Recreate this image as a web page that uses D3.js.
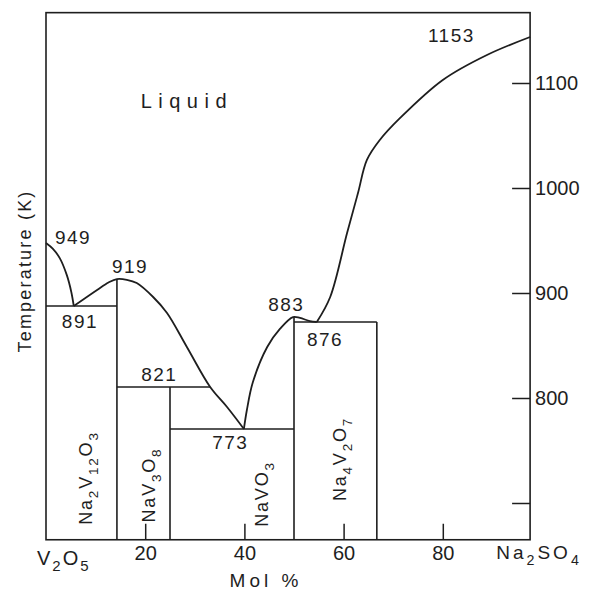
<!DOCTYPE html>
<html>
<head>
<meta charset="utf-8">
<script src="https://cdn.jsdelivr.net/npm/d3@7/dist/d3.min.js"></script>
<style>
  body { margin: 0; background: #fff; }
  text { font-family: "Liberation Sans", Arial, sans-serif; fill: #1e1e1e; }
</style>
</head>
<body>
<div id="chart"></div>
<script>
// liquidus branches, [mol % Na2SO4, temperature K]
var branchV2O5 = [[0, 947.6], [1.4, 942], [2.8, 933], [4.2, 917], [5.1, 901], [5.6, 887.6]];
var branchNa2V12O31 = [[5.6, 887.6], [10.3, 902.9], [12.6, 910], [14.3, 913.3], [16.3, 912.6], [18.3, 909.5],
  [21.6, 896.2], [24.4, 881], [28.4, 848.6], [33.1, 810.5], [36.5, 791.4], [39.9, 770.5]];
var branchNaVO3 = [[39.9, 770.5], [40.5, 788.6], [41.7, 815], [44.6, 848.6], [47.2, 866], [49.8, 877.1],
  [51.2, 876.2], [53.2, 873.3], [54.6, 872.4]];
var branchNa2SO4 = [[54.6, 872.4], [57.3, 896.2], [60.7, 957.1], [62.9, 995.2], [64.7, 1026.7], [67.3, 1045.7],
  [71.4, 1066.7], [80, 1102.9], [88.9, 1126.7], [97.6, 1143.8]];

// invariant (horizontal) lines
var invFrom = [0, 14.3, 25, 50];
var invTo = [14.3, 33.1, 50, 66.7];
var invTemp = [887.6, 810.5, 770.5, 872.4];

// compounds (vertical lines)
var compoundMol = [14.3, 25, 50, 66.7];
var compoundTop = [913.3, 810.5, 877.1, 872.4];
var compoundNames = ["Na{2}V{12}O{3}", "NaV{3}O{8}", "NaVO{3}", "Na{4}V{2}O{7}"];
var compoundLabelMol = [8.3, 21.0, 43.8, 59.5];
var compoundLabelK = [723.8, 717.1, 708.6, 741.9];

// temperature annotations
var tempLabels = ["949", "919", "891", "821", "773", "883", "876", "1153"];
var tempLabelMol = [1.8, 13.3, 3.2, 19.2, 33.5, 44.8, 52.6, 77.0];
var tempLabelK = [946.7, 919, 866.7, 816.2, 751.4, 882.9, 849.5, 1139];

var xTicks = [20, 40, 60, 80];
var yTicks = [700, 800, 900, 1000, 1100];
var xFrame = [0, 97.6];
var yFrame = [665, 1167];

var width = 591, height = 592;
var svg = d3.select('#chart')
  .append('svg')
  .attr('width', width)
  .attr('height', height);

var x = d3.scaleLinear().domain([0, 100]).range([46, 542]);
var y = d3.scaleLinear().domain([700, 1100]).range([503, 83]);

var ink = '#1e1e1e';

// frame
svg.append('rect')
  .attr('x', x(xFrame[0]))
  .attr('y', y(yFrame[1]))
  .attr('width', x(xFrame[1]) - x(xFrame[0]))
  .attr('height', y(yFrame[0]) - y(yFrame[1]))
  .attr('fill', 'none')
  .attr('stroke', ink)
  .attr('stroke-width', 1.6);

// right temperature axis, ticks pointing inward
var yAxis = svg.append('g')
  .attr('transform', 'translate(' + x(xFrame[1]) + ',0)')
  .call(d3.axisRight(y).tickValues(yTicks).tickSizeInner(-18).tickSizeOuter(0).tickPadding(5)
    .tickFormat(function(d){ return d === 700 ? '' : d; }));
yAxis.select('.domain').remove();
yAxis.selectAll('line').attr('stroke', ink).attr('stroke-width', 1.5);
yAxis.selectAll('text').attr('font-size', 20).attr('font-family', null).attr('fill', ink);

// bottom composition axis
var xAxis = svg.append('g')
  .attr('transform', 'translate(0,' + y(yFrame[0]) + ')')
  .call(d3.axisBottom(x).tickValues(xTicks).tickSizeInner(-16).tickSizeOuter(0).tickPadding(6));
xAxis.select('.domain').remove();
xAxis.selectAll('line').attr('stroke', ink).attr('stroke-width', 1.5);
xAxis.selectAll('text').attr('font-size', 20).attr('font-family', null).attr('fill', ink);

// compound lines
svg.selectAll('line.compound')
  .data(compoundMol)
  .enter()
  .append('line')
  .attr('class', 'compound')
  .attr('x1', function(d){ return x(d); })
  .attr('x2', function(d){ return x(d); })
  .attr('y1', function(d, i){ return y(compoundTop[i]); })
  .attr('y2', y(yFrame[0]))
  .attr('stroke', ink)
  .attr('stroke-width', 1.6);

svg.selectAll('line.inv')
  .data(invTemp)
  .enter()
  .append('line')
  .attr('class', 'inv')
  .attr('x1', function(d, i){ return x(invFrom[i]); })
  .attr('x2', function(d, i){ return x(invTo[i]); })
  .attr('y1', function(d){ return y(d); })
  .attr('y2', function(d){ return y(d); })
  .attr('stroke', ink)
  .attr('stroke-width', 1.6);

// liquidus
var line = d3.line()
  .x(function(d){ return x(d[0]); })
  .y(function(d){ return y(d[1]); })
  .curve(d3.curveCatmullRom.alpha(0.5));

[branchV2O5, branchNa2V12O31, branchNaVO3, branchNa2SO4].forEach(function(b){
  svg.append('path')
    .attr('d', line(b))
    .attr('fill', 'none')
    .attr('stroke', ink)
    .attr('stroke-width', 1.8);
});

// formula with subscripts written as {n}
function addFormula(sel, str, size) {
  var parts = str.split(/(\{\d+\})/).filter(function(s){ return s.length; });
  var shift = 0;
  parts.forEach(function(p){
    var sub = p[0] === '{';
    var target = sub ? size * 0.32 : 0;
    var t = sel.append('tspan').text(sub ? p.slice(1, -1) : p).attr('dy', target - shift);
    if (sub) t.attr('font-size', size * 0.75);
    shift = target;
  });
}

compoundNames.forEach(function(n, i){
  var t = svg.append('text')
    .attr('transform', 'translate(' + x(compoundLabelMol[i]) + ',' + y(compoundLabelK[i]) + ') rotate(-90)')
    .attr('text-anchor', 'middle')
    .attr('font-size', 18)
    .attr('letter-spacing', 1.8)
    .attr('y', 5);
  addFormula(t, n, 18);
});

svg.selectAll('text.temp')
  .data(tempLabels)
  .enter()
  .append('text')
  .attr('class', 'temp')
  .attr('x', function(d, i){ return x(tempLabelMol[i]); })
  .attr('y', function(d, i){ return y(tempLabelK[i]); })
  .attr('font-size', 19)
  .attr('letter-spacing', 1.5)
  .text(function(d){ return d; });

svg.append('text')
  .attr('x', x(28.4))
  .attr('y', y(1076))
  .attr('text-anchor', 'middle')
  .attr('font-size', 20)
  .attr('letter-spacing', 6.5)
  .text('Liquid');

// end members and axis titles
var v2o5 = svg.append('text')
  .attr('x', x(0) - 9)
  .attr('y', 565)
  .attr('font-size', 20)
  .attr('letter-spacing', 2);
addFormula(v2o5, 'V{2}O{5}', 20);

var na2so4 = svg.append('text')
  .attr('x', x(100) - 3)
  .attr('y', 559)
  .attr('text-anchor', 'middle')
  .attr('font-size', 19)
  .attr('letter-spacing', 3);
addFormula(na2so4, 'Na{2}SO{4}', 19);

svg.append('text')
  .attr('x', 266)
  .attr('y', 587)
  .attr('text-anchor', 'middle')
  .attr('font-size', 19)
  .attr('letter-spacing', 4)
  .text('Mol %');

svg.append('text')
  .attr('transform', 'translate(25,271) rotate(-90)')
  .attr('text-anchor', 'middle')
  .attr('dy', '0.35em')
  .attr('font-size', 18)
  .attr('letter-spacing', 2.2)
  .text('Temperature (K)');
</script>
</body>
</html>
